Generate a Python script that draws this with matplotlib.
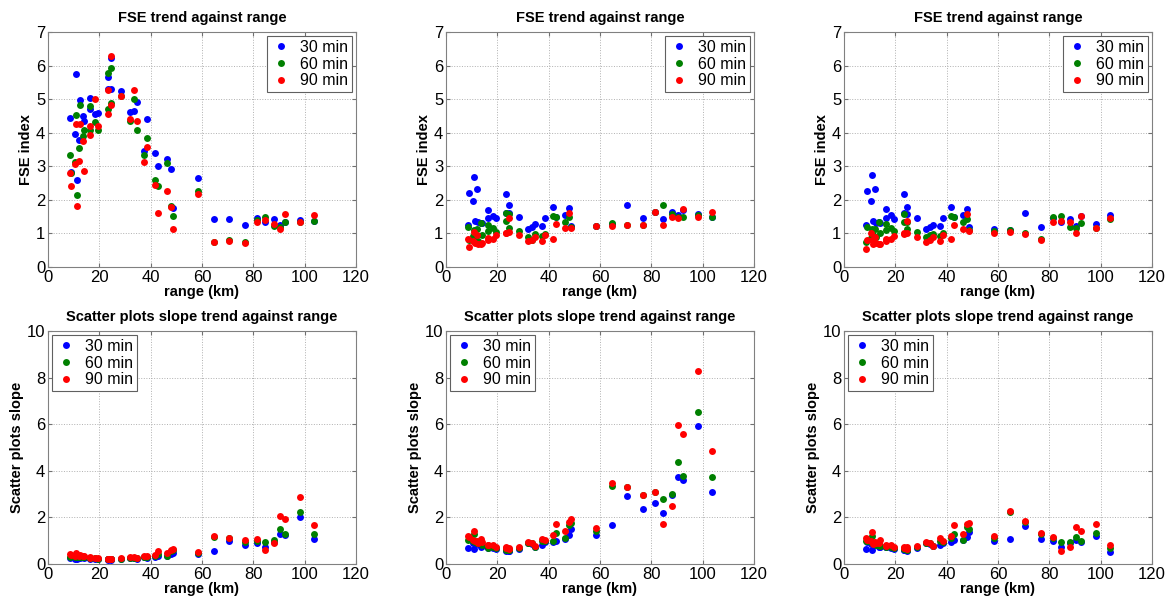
'''
FSE index and scatter plots slope against range, three sites, 30/60/90 min.
'''
import matplotlib
matplotlib.use('Agg')
import matplotlib.pyplot as plt

###############################################################################

RANGE_KM = [8.5, 8.8, 10.6, 11.0, 11.2, 12.2, 12.4, 13.7, 14.0, 16.3, 16.5,
            18.3, 19.5, 23.2, 23.4, 24.4, 24.6, 28.6, 31.9, 33.5, 34.6, 37.4,
            38.5, 41.6, 42.7, 46.2, 47.9, 48.6, 58.6, 64.8, 70.4, 76.7, 81.3,
            84.5, 88.0, 90.5, 92.2, 98.2, 103.6]
INTERVALS = ['30 min', '60 min', '90 min']

# FSE index, panel 1 (left)
FSE_1_30 = [4.43, 2.82, 3.96, 5.76, 2.58, 3.78, 4.97, 4.50, 4.35, 5.04, 4.72,
            4.57, 4.60, 5.67, 5.30, 6.24, 5.31, 5.25, 4.63, 4.66, 4.91, 3.47,
            4.42, 3.39, 3.01, 3.23, 2.92, 1.77, 2.64, 1.43, 1.44, 1.25, 1.47,
            1.33, 1.42, 1.25, 1.35, 1.39, 1.36]
FSE_1_60 = [3.34, 2.80, 3.12, 4.53, 2.15, 3.55, 4.83, 3.89, 4.09, 4.79, 4.07,
            4.32, 4.09, 4.71, 5.78, 5.94, 4.90, 5.08, 4.34, 4.99, 4.08, 3.35,
            3.83, 2.58, 2.40, 3.09, 1.81, 1.53, 2.27, 0.75, 0.80, 0.73, 1.40,
            1.50, 1.22, 1.20, 1.35, 1.33, 1.36]
FSE_1_90 = [2.79, 2.42, 3.08, 4.27, 1.81, 3.17, 4.27, 3.74, 2.86, 3.94, 4.19,
            4.99, 4.19, 4.55, 5.28, 6.28, 4.84, 5.08, 4.42, 5.26, 4.34, 3.12,
            3.56, 2.44, 1.61, 2.25, 1.78, 1.14, 2.16, 0.73, 0.76, 0.71, 1.34,
            1.40, 1.28, 1.12, 1.59, 1.33, 1.54]

# FSE index, panel 2 (middle)
FSE_2_30 = [1.26, 2.21, 1.97, 2.69, 1.36, 2.31, 1.34, 1.32, 1.30, 1.71, 1.46,
            1.53, 1.45, 2.18, 1.62, 1.85, 1.62, 1.49, 1.12, 1.20, 1.28, 1.22,
            1.47, 1.78, 1.50, 1.54, 1.76, 1.22, 1.22, 1.27, 1.84, 1.47, 1.65,
            1.42, 1.65, 1.55, 1.70, 1.57, 1.48]
FSE_2_60 = [1.18, 0.79, 0.92, 1.10, 0.85, 1.12, 0.78, 1.30, 0.95, 1.25, 1.08,
            1.15, 1.05, 1.60, 1.38, 1.17, 1.58, 1.08, 0.88, 0.80, 0.98, 0.92,
            0.99, 1.52, 1.50, 1.33, 1.48, 1.18, 1.22, 1.30, 1.24, 1.24, 1.63,
            1.84, 1.58, 1.50, 1.50, 1.55, 1.48]
FSE_2_90 = [0.84, 0.60, 0.78, 1.05, 0.72, 0.95, 0.70, 0.68, 0.72, 0.85, 0.80,
            0.82, 0.95, 1.02, 1.00, 1.47, 1.04, 0.95, 0.76, 0.80, 0.88, 0.78,
            0.95, 0.83, 1.27, 1.15, 1.62, 1.15, 1.22, 1.22, 1.24, 1.24, 1.64,
            1.24, 1.48, 1.45, 1.72, 1.50, 1.64]

# FSE index, panel 3 (right)
FSE_3_30 = [1.25, 2.26, 1.98, 2.73, 1.36, 2.31, 1.30, 1.34, 1.30, 1.72, 1.45,
            1.54, 1.43, 2.16, 1.60, 1.78, 1.58, 1.45, 1.12, 1.18, 1.25, 1.21,
            1.47, 1.80, 1.50, 1.54, 1.73, 1.18, 1.13, 1.10, 1.60, 1.20, 1.46,
            1.34, 1.43, 1.22, 1.51, 1.28, 1.55]
FSE_3_60 = [0.75, 1.18, 0.85, 1.12, 0.95, 1.12, 0.90, 1.33, 1.00, 1.28, 1.10,
            1.15, 1.07, 1.58, 1.35, 1.34, 1.12, 1.03, 0.88, 0.95, 0.97, 0.92,
            1.00, 1.53, 1.50, 1.33, 1.42, 1.10, 1.07, 1.10, 1.00, 0.83, 1.50,
            1.52, 1.20, 1.17, 1.30, 1.15, 1.42]
FSE_3_90 = [0.54, 0.80, 1.02, 0.80, 0.70, 0.90, 0.72, 0.69, 0.70, 0.82, 0.78,
            0.82, 0.92, 1.00, 0.98, 1.38, 1.02, 0.88, 0.75, 0.80, 0.88, 0.78,
            0.95, 0.84, 1.26, 1.13, 1.57, 1.08, 1.00, 1.03, 0.98, 0.80, 1.35,
            1.36, 1.34, 1.02, 1.52, 1.15, 1.46]

# scatter plots slope, panel 1 (left)
SLOPE_1_30 = [0.24, 0.28, 0.20, 0.25, 0.22, 0.28, 0.26, 0.28, 0.27, 0.23, 0.24,
              0.22, 0.21, 0.20, 0.19, 0.19, 0.20, 0.22, 0.25, 0.25, 0.22, 0.30,
              0.27, 0.31, 0.33, 0.34, 0.43, 0.48, 0.44, 0.57, 1.00, 0.82, 0.89,
              0.75, 0.95, 1.29, 1.24, 2.03, 1.06]
SLOPE_1_60 = [0.30, 0.35, 0.30, 0.40, 0.28, 0.30, 0.32, 0.30, 0.30, 0.25, 0.26,
              0.24, 0.23, 0.22, 0.20, 0.20, 0.21, 0.23, 0.27, 0.27, 0.24, 0.32,
              0.30, 0.35, 0.45, 0.36, 0.55, 0.58, 0.48, 1.17, 1.10, 0.95, 1.00,
              0.96, 1.03, 1.50, 1.29, 2.25, 1.29]
SLOPE_1_90 = [0.41, 0.38, 0.36, 0.49, 0.40, 0.34, 0.38, 0.34, 0.36, 0.26, 0.28,
              0.26, 0.24, 0.23, 0.22, 0.21, 0.22, 0.24, 0.31, 0.30, 0.26, 0.36,
              0.33, 0.40, 0.57, 0.46, 0.62, 0.66, 0.52, 1.20, 1.13, 1.03, 1.06,
              0.60, 0.89, 2.05, 1.92, 2.86, 1.66]

# scatter plots slope, panel 2 (middle)
SLOPE_2_30 = [0.70, 1.10, 0.92, 0.63, 0.90, 0.95, 0.85, 0.72, 0.78, 0.70, 0.72,
              0.67, 0.63, 0.56, 0.58, 0.55, 0.56, 0.66, 0.88, 0.85, 0.72, 0.82,
              0.95, 0.95, 1.00, 1.06, 1.23, 1.50, 1.26, 1.66, 2.93, 2.36, 2.60,
              2.17, 2.96, 3.75, 3.60, 5.94, 3.10]
SLOPE_2_60 = [1.03, 1.10, 1.00, 1.29, 0.95, 0.90, 0.88, 0.85, 0.82, 0.70, 0.75,
              0.72, 0.68, 0.65, 0.62, 0.60, 0.62, 0.70, 0.90, 0.88, 0.75, 0.97,
              1.00, 1.00, 1.33, 1.10, 1.67, 1.75, 1.40, 3.35, 3.29, 2.95, 3.08,
              2.79, 3.00, 4.36, 3.76, 6.51, 3.75]
SLOPE_2_90 = [1.20, 1.14, 1.05, 1.43, 0.98, 1.00, 0.92, 1.09, 0.95, 0.80, 0.82,
              0.80, 0.72, 0.71, 0.68, 0.70, 0.65, 0.74, 0.93, 0.89, 0.78, 1.06,
              1.02, 1.23, 1.70, 1.42, 1.80, 1.92, 1.53, 3.46, 3.29, 2.95, 3.08,
              1.70, 2.49, 5.95, 5.60, 8.30, 4.84]

# scatter plots slope, panel 3 (right)
SLOPE_3_30 = [0.64, 0.95, 0.85, 0.60, 0.90, 0.90, 0.80, 0.75, 0.72, 0.72, 0.74,
              0.70, 0.63, 0.58, 0.60, 0.57, 0.58, 0.70, 0.90, 0.85, 0.76, 0.82,
              0.90, 0.93, 1.03, 1.03, 1.17, 1.39, 1.00, 1.09, 1.65, 1.07, 1.00,
              0.73, 0.88, 1.03, 0.93, 1.22, 0.53]
SLOPE_3_60 = [0.99, 1.00, 0.95, 1.20, 0.92, 0.85, 0.82, 0.80, 0.78, 0.75, 0.76,
              0.75, 0.68, 0.64, 0.63, 0.62, 0.60, 0.72, 0.92, 0.88, 0.78, 1.00,
              0.95, 1.10, 1.30, 1.03, 1.57, 1.50, 1.10, 2.22, 1.80, 1.30, 1.10,
              0.93, 0.93, 1.17, 0.97, 1.34, 0.67]
SLOPE_3_90 = [1.10, 1.05, 1.00, 1.39, 0.85, 0.95, 0.90, 0.90, 1.03, 0.80, 0.78,
              0.82, 0.74, 0.72, 0.68, 0.72, 0.65, 0.76, 0.96, 0.90, 0.79, 1.10,
              1.00, 1.20, 1.66, 1.29, 1.70, 1.77, 1.20, 2.27, 1.85, 1.34, 1.17,
              0.57, 0.73, 1.60, 1.42, 1.72, 0.83]

COLORS = ['#0000ff', '#008000', '#ff0000']

###############################################################################

def draw_panel(axes, series, title, ylabel, ymax, ystep, legend_loc):
    '''One MATLAB-looking scatter panel: three interval series against range.'''
    for values, label, color in zip(series, INTERVALS, COLORS):
        axes.plot(RANGE_KM, values, linestyle='none', marker='o', markersize=5,
                  markeredgewidth=0, color=color, label=label)
    axes.set_xlim(0, 120)
    axes.set_ylim(0, ymax)
    axes.set_xticks(range(0, 121, 20))
    axes.set_yticks(range(0, ymax + 1, ystep))
    axes.grid(True, linestyle=':', color='#b0b0b0', linewidth=0.7)
    axes.set_axisbelow(True)
    axes.tick_params(direction='in', top=True, right=True, length=3,
                     labelsize=12, color='#707070', pad=2)
    for spine in axes.spines.values():
        spine.set_color('#808080')
    axes.set_title(title, fontsize=10.5, fontweight='bold', pad=7)
    axes.set_xlabel('range (km)', fontsize=10.5, fontweight='bold', labelpad=0)
    axes.set_ylabel(ylabel, fontsize=10.5, fontweight='bold', labelpad=2)
    leg = axes.legend(loc=legend_loc, fontsize=11.5, numpoints=1,
                      handlelength=1.2, handletextpad=0.6, borderpad=0.25,
                      labelspacing=0.1, borderaxespad=0.25, fancybox=False,
                      framealpha=1)
    leg.get_frame().set_edgecolor('#606060')
    leg.get_frame().set_linewidth(0.8)

###############################################################################

def main():
    '''Build the 2x3 figure and save it.'''
    plt.rcParams['font.family'] = ['Liberation Sans', 'DejaVu Sans']
    fig = plt.figure(figsize=(11.72, 6.03), dpi=100)

    lefts = [48 / 1172, 446 / 1172, 844 / 1172]
    width = 308 / 1172
    fse = [(FSE_1_30, FSE_1_60, FSE_1_90),
           (FSE_2_30, FSE_2_60, FSE_2_90),
           (FSE_3_30, FSE_3_60, FSE_3_90)]
    slope = [(SLOPE_1_30, SLOPE_1_60, SLOPE_1_90),
             (SLOPE_2_30, SLOPE_2_60, SLOPE_2_90),
             (SLOPE_3_30, SLOPE_3_60, SLOPE_3_90)]

    for left, series in zip(lefts, fse):
        axes = fig.add_axes([left, 1 - 267 / 603, width, 235 / 603])
        draw_panel(axes, series, 'FSE trend against range', 'FSE index',
                   7, 1, 'upper right')
    for left, series in zip(lefts, slope):
        axes = fig.add_axes([left, 1 - 564 / 603, width, 233 / 603])
        draw_panel(axes, series, 'Scatter plots slope trend against range',
                   'Scatter plots slope', 10, 2, 'upper left')

    fig.savefig('out.png', dpi=100, facecolor='white')

###############################################################################

if __name__ == '__main__':
    main()
